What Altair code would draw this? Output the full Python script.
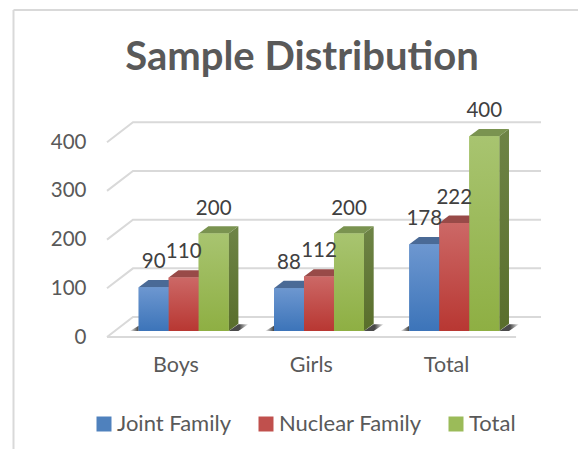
import altair as alt
import pandas as pd

categories = ["Boys", "Girls", "Total"]
series_names = ["Joint Family", "Nuclear Family", "Total"]
joint = [90, 88, 178]
nuclear = [110, 112, 222]
total = [200, 200, 400]
tick_values = [0, 100, 200, 300, 400]

FONT = "Lato"
STEP_PX, PX_PER_Y = 135.3, 0.487
PLOT_W, PLOT_H = 434, 237
X0, X1 = -0.5063, 2.7014
BAR_START, BAR_W = -0.272, 0.2217     # in category units
DEPTH_X, DEPTH_Y = 0.0717, 15         # bar depth
BASE = 12.3                           # bar plane above the front floor
WALL_X, WALL_Y = 0.192, 41            # back wall offset
FLOOR_END = 2.517

xs = alt.Scale(domain=[X0, X1], nice=False, zero=False)
ys = alt.Scale(domain=[0, PLOT_H / PX_PER_Y], nice=False, zero=False)

x_axis = alt.Axis(values=[0, 1, 2], labelExpr=str(categories) + "[datum.value]", domain=False, ticks=False,
                  grid=False, labelPadding=17, labelFontSize=21.5, labelColor="#595959", labelFont=FONT,
                  labelAngle=0, title=None)
y_axis = alt.Axis(values=tick_values, domain=False, ticks=False, grid=False, labelPadding=21,
                  labelFontSize=20.5, labelColor="#595959", labelFont=FONT, title=None)


def X(field="x"):
    return alt.X(f"{field}:Q", scale=xs, axis=x_axis)


def Y(field="y"):
    return alt.Y(f"{field}:Q", scale=ys, axis=y_axis)


def grad(c_top, c_bottom):
    return alt.Gradient(gradient="linear", x1=0, y1=0, x2=0, y2=1,
                        stops=[alt.GradientStop(color=c_top, offset=0),
                               alt.GradientStop(color=c_bottom, offset=1)])


styles = {
    "Joint Family": dict(flat="#4F81BD", front=("#6D97D0", "#3C74B9"), top="#4A6A96", side=("#3F5F8C", "#2F4C73")),
    "Nuclear Family": dict(flat="#C0504D", front=("#CC6866", "#B83732"), top="#984A48", side=("#8A3F3D", "#702D2B")),
    "Total": dict(flat="#9BBB59", front=("#A8C470", "#8EAF43"), top="#7A9350", side=("#6E8446", "#596E2B")),
}

bars, tops, sides = [], [], []
for s, (name, vals) in enumerate(zip(series_names, [joint, nuclear, total])):
    for g, v in enumerate(vals):
        x0 = g + BAR_START + s * BAR_W
        x1 = x0 + BAR_W
        bars.append(dict(series=name, group=g, x=x0, x2=x1, xc=(x0 + x1) / 2, y=BASE, y2=v + BASE, value=v))
        t = v + BASE
        tops += [
            dict(series=name, group=g, x=x0, y=t, y2=t),
            dict(series=name, group=g, x=x0 + DEPTH_X, y=t, y2=t + DEPTH_Y),
            dict(series=name, group=g, x=x1, y=t, y2=t + DEPTH_Y),
            dict(series=name, group=g, x=x1 + DEPTH_X, y=t + DEPTH_Y, y2=t + DEPTH_Y),
        ]
        sides += [
            dict(series=name, group=g, x=x1, y=BASE, y2=t),
            dict(series=name, group=g, x=x1 + DEPTH_X, y=BASE + DEPTH_Y, y2=t + DEPTH_Y),
        ]
bars, tops, sides = pd.DataFrame(bars), pd.DataFrame(tops), pd.DataFrame(sides)

grid_rows = []
for v in tick_values:
    grid_rows += [dict(v=v, x=X0, y=v), dict(v=v, x=X0 + WALL_X, y=v + WALL_Y), dict(v=v, x=X1, y=v + WALL_Y)]
grid_df = pd.DataFrame(grid_rows)
floor_df = pd.DataFrame([dict(x=X0, y=0), dict(x=FLOOR_END, y=0)])

shadow_r, shadow_l = [], []
for g in range(len(categories)):
    xl = g + BAR_START
    xr = xl + 3 * BAR_W
    shadow_r += [
        dict(group=g, x=xr, y=BASE, y2=BASE),
        dict(group=g, x=xr + DEPTH_X, y=BASE, y2=BASE + 14),
        dict(group=g, x=xr + 0.145, y=BASE + 14, y2=BASE + 14),
    ]
    shadow_l += [
        dict(group=g, x=xl - 0.065, y=BASE, y2=BASE),
        dict(group=g, x=xl, y=BASE, y2=BASE + 11),
    ]
shadow_r, shadow_l = pd.DataFrame(shadow_r), pd.DataFrame(shadow_l)

GRID = "#D9D9D9"
layers = []

# frame of the picture
frame = pd.DataFrame([{"k": 0}])
layers.append(alt.Chart(frame).mark_rule(color=GRID, strokeWidth=2).encode(
    x=alt.value(-93.5), y=alt.value(-90), y2=alt.value(349)))
layers.append(alt.Chart(frame).mark_rule(color=GRID, strokeWidth=2).encode(
    x=alt.value(-93.5), x2=alt.value(471), y=alt.value(-90)))

layers.append(alt.Chart(grid_df).mark_line(color=GRID, strokeWidth=2).encode(x=X(), y=Y(), detail="v:N"))
layers.append(alt.Chart(floor_df).mark_line(color=GRID, strokeWidth=2).encode(x=X(), y=Y()))

sh_r = alt.Gradient(gradient="linear", x1=0, y1=0, x2=1, y2=0,
                    stops=[alt.GradientStop(color="#4A4A4A", offset=0), alt.GradientStop(color="#4A4A4A", offset=0.55),
                           alt.GradientStop(color="#F2F2F2", offset=1)])
sh_l = alt.Gradient(gradient="linear", x1=0, y1=0, x2=1, y2=0,
                    stops=[alt.GradientStop(color="#F5F5F5", offset=0), alt.GradientStop(color="#404040", offset=1)])
layers.append(alt.Chart(shadow_r).mark_area(color=sh_r).encode(x=X(), y=Y(), y2="y2:Q", detail="group:N"))
layers.append(alt.Chart(shadow_l).mark_area(color=sh_l).encode(x=X(), y=Y(), y2="y2:Q", detail="group:N"))

# flat bars carry the legend
layers.append(alt.Chart(bars).mark_bar().encode(
    x=X(), x2="x2:Q", y=Y(), y2="y2:Q",
    color=alt.Color("series:N",
                    scale=alt.Scale(domain=series_names, range=[styles[n]["flat"] for n in series_names]),
                    legend=alt.Legend(title=None, orient="none", direction="horizontal", legendX=-14, legendY=313,
                                      symbolType="square", symbolSize=225, symbolStrokeWidth=0, labelFont=FONT,
                                      labelFontSize=22, labelColor="#595959", columnPadding=23, labelOffset=2,
                                      labelLimit=200, symbolOpacity=1))))

for name in series_names:
    st = styles[name]
    layers.append(alt.Chart(sides[sides.series == name]).mark_area(color=grad(*st["side"])).encode(
        x=X(), y=Y(), y2="y2:Q", detail="group:N"))
    layers.append(alt.Chart(tops[tops.series == name]).mark_area(color=st["top"]).encode(
        x=X(), y=Y(), y2="y2:Q", detail="group:N"))
    layers.append(alt.Chart(bars[bars.series == name]).mark_bar(color=grad(*st["front"])).encode(
        x=X(), x2="x2:Q", y=Y(), y2="y2:Q", detail="group:N"))

layers.append(alt.Chart(bars).mark_text(font=FONT, fontSize=20.5, color="#404040", dy=-25, baseline="middle").encode(
    x=X("xc"), y=Y("y2"), text="value:Q"))

chart = alt.layer(*layers).properties(
    width=PLOT_W, height=PLOT_H,
    title=alt.TitleParams("Sample Distribution", font=FONT, fontSize=40, fontWeight="bold", color="#595959",
                          anchor="middle", frame="group", dx=-22, dy=69, offset=0),
    autosize=alt.AutoSizeParams(type="none"),
    padding={"left": 99, "top": 92, "right": 37, "bottom": 112},
).configure_view(stroke=None)

chart.save("out.html", embed_options={"renderer": "svg", "actions": False})
